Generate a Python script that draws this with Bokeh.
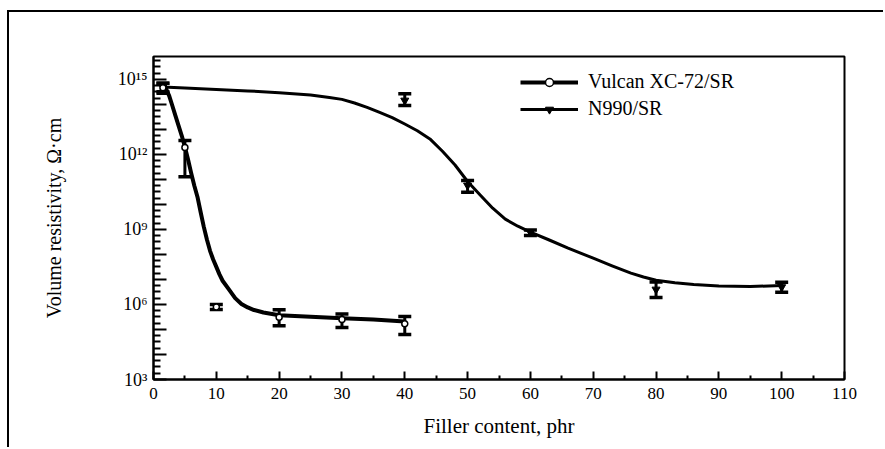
from bokeh.plotting import figure
from bokeh.models import (FixedTicker, CustomJSTickFormatter, Whisker, TeeHead,
                          ColumnDataSource, Legend, LegendItem, Range1d)
from bokeh.embed import file_html
from bokeh.resources import INLINE

# ---- data ----
# Vulcan XC-72/SR measured points
vul_x = [1.5, 5, 10, 20, 30, 40]
vul_y = [4.7e14, 1.9e12, 8.0e5, 3.1e5, 2.5e5, 1.7e5]
vul_up = [7.0e14, 3.6e12, 1.0e6, 6.2e5, 4.2e5, 3.3e5]
vul_lo = [2.8e14, 1.3e11, 6.3e5, 1.4e5, 1.2e5, 6.3e4]
# Vulcan fitted curve
vul_cx = [1.5, 2, 2.5, 3, 3.5, 4, 4.5, 5, 5.5, 6, 6.5, 7, 7.5, 8, 8.5, 9, 9.5, 10, 10.5,
          11, 12, 13, 14, 15, 16, 17.5, 20, 25, 30, 35, 40]
vul_cy = [5.0e14, 4.2e14, 2.2e14, 8.9e13, 3.5e13, 1.4e13, 5.6e12, 2.0e12, 6.3e11, 1.8e11,
          5.6e10, 2.0e10, 5.0e9, 1.3e9, 4.0e8, 1.4e8, 6.3e7, 3.2e7, 1.6e7,
          8.9e6, 4.0e6, 1.8e6, 1.05e6, 7.6e5, 6.0e5, 4.8e5, 3.7e5, 3.2e5, 2.8e5, 2.5e5, 2.1e5]

# N990/SR measured points
n_x = [1.5, 40, 50, 60, 80, 100]
n_y = [5.0e14, 1.45e14, 5.8e10, 7.8e8, 4.0e6, 5.0e6]
n_up = [7.0e14, 2.7e14, 9.1e10, 9.5e8, 7.9e6, 7.8e6]
n_lo = [3.2e14, 9.1e13, 3.1e10, 5.8e8, 1.9e6, 3.1e6]
# N990 fitted curve
n_cx = [1.5, 5, 10, 15, 20, 25, 28, 30, 32, 34, 36, 38, 40, 42, 44, 46, 48, 50, 52, 54,
        56, 58, 60, 63, 66, 70, 73, 76, 78, 80, 83, 86, 90, 95, 100]
n_cy = [5.0e14, 4.6e14, 4.0e14, 3.5e14, 2.95e14, 2.4e14, 1.9e14, 1.6e14, 1.15e14, 7.6e13,
        4.8e13, 3.0e13, 1.66e13, 8.9e12, 4.2e12, 1.35e12, 3.8e11, 8.3e10, 2.4e10, 7.1e9,
        2.6e9, 1.35e9, 7.9e8, 3.8e8, 1.8e8, 7.1e7, 3.5e7, 1.8e7, 1.26e7, 9.3e6,
        7.4e6, 6.3e6, 5.5e6, 5.2e6, 5.8e6]

# ticks
x_ticks = [0, 10, 20, 30, 40, 50, 60, 70, 80, 90, 100, 110]
x_minor = [5, 15, 25, 35, 45, 55, 65, 75, 85, 95, 105]
y_decades = [10.0 ** k for k in range(3, 16)]
y_minor = [10.0 ** (k / 4) for k in range(13, 64) if k % 4 != 0]

labels = ["Vulcan XC-72/SR", "N990/SR"]
FONT = "Liberation Serif"

p = figure(width=876, height=437, output_backend="svg", toolbar_location=None,
           y_axis_type="log", x_range=Range1d(0, 110), y_range=Range1d(1e3, 8.3e15),
           min_border_left=144, min_border_right=41, min_border_top=44, min_border_bottom=70)
p.margin = (10, 0, 0, 7)
p.styles = {"border-top": "2px solid black", "border-left": "2px solid black"}
p.background_fill_color = "white"
p.border_fill_color = "white"
p.grid.visible = False
p.outline_line_color = "black"
p.outline_line_width = 2

# axes with inward ticks
xa = p.xaxis[0]
ya = p.yaxis[0]
xa.ticker = FixedTicker(ticks=x_ticks, minor_ticks=x_minor)
ya.ticker = FixedTicker(ticks=y_decades, minor_ticks=y_minor)
ya.formatter = CustomJSTickFormatter(code="""
const e = Math.round(Math.log10(tick));
if (e % 3 != 0) return '';
const sup = {'0':'\u2070','1':'\u00b9','2':'\u00b2','3':'\u00b3','4':'\u2074','5':'\u2075','6':'\u2076','7':'\u2077','8':'\u2078','9':'\u2079','-':'\u207b'};
return '10' + String(e).split('').map(c => sup[c]).join('');
""")
for ax in (xa, ya):
    ax.axis_line_width = 2
    ax.axis_line_color = "black"
    ax.major_tick_line_width = 2
    ax.minor_tick_line_width = 2
    ax.major_tick_line_color = "black"
    ax.minor_tick_line_color = "black"
    ax.major_tick_out = 0
    ax.minor_tick_out = 0
    ax.major_label_text_font = FONT
    ax.major_label_text_color = "black"
    ax.axis_label_text_font = FONT
    ax.axis_label_text_font_style = "normal"
    ax.axis_label_text_color = "black"
xa.major_tick_in = 8
xa.minor_tick_in = 4
ya.major_tick_in = 13
ya.minor_tick_in = 7
xa.major_label_text_font_size = "17px"
ya.major_label_text_font_size = "18px"
xa.major_label_standoff = 8
ya.major_label_standoff = 6
xa.axis_label = "Filler content, phr"
xa.axis_label_text_font_size = "21px"
xa.axis_label_standoff = 12
ya.axis_label = "Volume resistivity, \u03a9\u00b7cm"
ya.axis_label_text_font_size = "20px"
ya.axis_label_standoff = 50

# curves
r_vc = p.line(vul_cx, vul_cy, line_color="black", line_width=4, line_join="round")
r_nc = p.line(n_cx, n_cy, line_color="black", line_width=3, line_join="round")

# error bars
s_v = ColumnDataSource(dict(x=vul_x, y=vul_y, up=vul_up, lo=vul_lo))
s_n = ColumnDataSource(dict(x=n_x, y=n_y, up=n_up, lo=n_lo))
for s in (s_v, s_n):
    w = Whisker(source=s, base="x", upper="up", lower="lo", line_color="black", line_width=3,
                upper_head=TeeHead(size=13, line_width=3.5, line_color="black"),
                lower_head=TeeHead(size=13, line_width=3.5, line_color="black"))
    p.add_layout(w)

r_nm = p.scatter("x", "y", source=s_n, marker="inverted_triangle", size=8,
                 fill_color="black", line_color="black")
r_vm = p.scatter("x", "y", source=s_v, marker="circle", size=6,
                 fill_color="white", line_color="black", line_width=1.5)

legend = Legend(items=[LegendItem(label=labels[0], renderers=[r_vc, r_vm]),
                       LegendItem(label=labels[1], renderers=[r_nc, r_nm])],
                location=(367, 259), glyph_width=58, glyph_height=20, label_standoff=10,
                spacing=4, padding=0, margin=0, border_line_color=None,
                background_fill_alpha=0, label_text_font=FONT, label_text_font_size="20px",
                label_text_color="black")
p.add_layout(legend)

open("out.html", "w").write(file_html(p, INLINE))
